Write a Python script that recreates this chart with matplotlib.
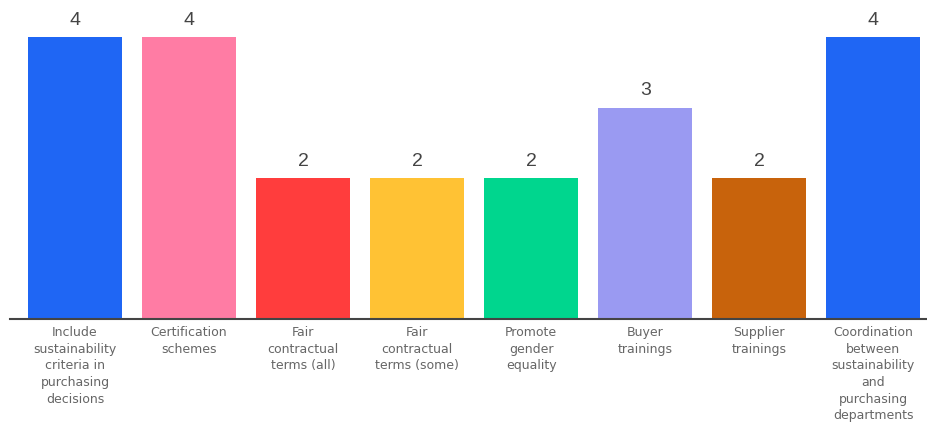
import matplotlib.pyplot as plt

categories = [
    "Include\nsustainability\ncriteria in\npurchasing\ndecisions",
    "Certification\nschemes",
    "Fair\ncontractual\nterms (all)",
    "Fair\ncontractual\nterms (some)",
    "Promote\ngender\nequality",
    "Buyer\ntrainings",
    "Supplier\ntrainings",
    "Coordination\nbetween\nsustainability\nand\npurchasing\ndepartments",
]
values = [4, 4, 2, 2, 2, 3, 2, 4]
colors = ["#1f66f4", "#ff7ca4", "#ff3d3d", "#ffc234", "#00d68e",
          "#9a9af2", "#c8630c", "#1f66f4"]

fig = plt.figure(figsize=(9.28, 4.26), dpi=100)
ax = fig.add_axes([10 / 928, 1 - 319 / 426, 918 / 928, 319 / 426])

x = list(range(len(values)))
bars = ax.bar(x, values, width=0.825, color=colors)
for b, v in zip(bars, values):
    ax.text(b.get_x() + b.get_width() / 2, v + 0.12, str(v),
            ha="center", va="bottom", fontsize=14, color="#444444",
            family="Liberation Sans")

ax.set_xlim(-0.57, 7.48)
ax.set_ylim(0, 4.525)
ax.set_xticks(x)
ax.set_xticklabels(categories, fontsize=9, color="#666666", linespacing=1.37,
                   family="DejaVu Sans")
ax.tick_params(axis="x", length=0, pad=5)
ax.set_yticks([])
for s in ["top", "right", "left"]:
    ax.spines[s].set_visible(False)
ax.spines["bottom"].set_color("#444444")
ax.spines["bottom"].set_linewidth(1.5)

fig.savefig("out.png", dpi=100)
